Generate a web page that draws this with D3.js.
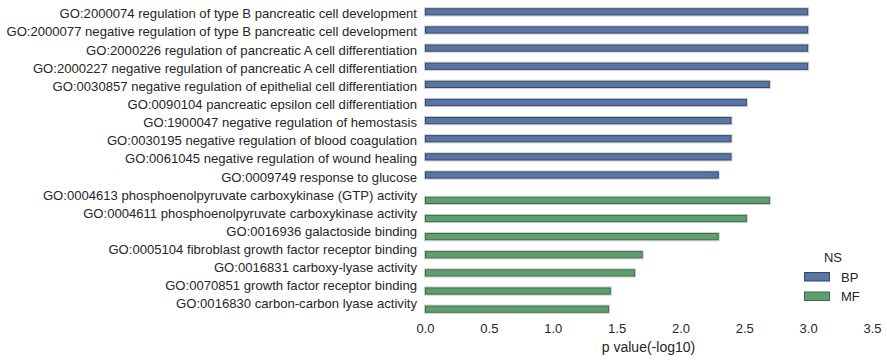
<!DOCTYPE html>
<html><head><meta charset="utf-8">
<script src="https://cdn.jsdelivr.net/npm/d3@7"></script>
<style>body{margin:0;background:#fff}text{font-family:"Liberation Sans",Arial,sans-serif;fill:#262626}</style>
</head><body><svg id="c" width="887" height="362"></svg>
<script>
const terms = [
 "GO:2000074 regulation of type B pancreatic cell development",
 "GO:2000077 negative regulation of type B pancreatic cell development",
 "GO:2000226 regulation of pancreatic A cell differentiation",
 "GO:2000227 negative regulation of pancreatic A cell differentiation",
 "GO:0030857 negative regulation of epithelial cell differentiation",
 "GO:0090104 pancreatic epsilon cell differentiation",
 "GO:1900047 negative regulation of hemostasis",
 "GO:0030195 negative regulation of blood coagulation",
 "GO:0061045 negative regulation of wound healing",
 "GO:0009749 response to glucose",
 "GO:0004613 phosphoenolpyruvate carboxykinase (GTP) activity",
 "GO:0004611 phosphoenolpyruvate carboxykinase activity",
 "GO:0016936 galactoside binding",
 "GO:0005104 fibroblast growth factor receptor binding",
 "GO:0016831 carboxy-lyase activity",
 "GO:0070851 growth factor receptor binding",
 "GO:0016830 carbon-carbon lyase activity"
];
const namespaces = ["BP","BP","BP","BP","BP","BP","BP","BP","BP","BP","MF","MF","MF","MF","MF","MF","MF"];
const pvalues = [3.0,3.0,3.0,3.0,2.70,2.52,2.40,2.40,2.40,2.30,2.70,2.52,2.30,1.705,1.645,1.455,1.44];
const hues = ["BP","MF"];
const colors = ["#5975A4","#5F9E6E"];
const edgeColors = ["#34476a","#3b6b47"];
const xTicks = [0,0.5,1.0,1.5,2.0,2.5,3.0,3.5];
const xLabel = "p value(-log10)";
const legendTitle = "NS";

(function(){
const svg = d3.select("#c");
const mLeft = 425, mRight = 872, mTop = 6.4, mBottom = 314.6;
const x = d3.scaleLinear().domain([0,3.5]).range([mLeft,mRight]);
const y = d3.scaleBand().domain(terms).range([mTop,mBottom]).paddingInner(0).paddingOuter(0);
const hueScale = d3.scaleBand().domain(hues).range([0, y.bandwidth()*0.8]);
const color = d3.scaleOrdinal().domain(hues).range(colors);
const edge = d3.scaleOrdinal().domain(hues).range(edgeColors);

const data = terms.map((t,i)=>({term:t, ns:namespaces[i], v:pvalues[i]}));
const off = y.bandwidth()*0.1;
const g = svg.append("g");
g.selectAll("rect.h").data(data).enter().append("rect")
 .attr("x", x(0)-0.5)
 .attr("y", d=>y(d.term)+off+hueScale(d.ns)-0.5)
 .attr("width", d=>x(d.v)-x(0)+1)
 .attr("height", hueScale.bandwidth()+1)
 .attr("fill","none").attr("stroke","#cfcfcf").attr("stroke-width",1);
g.selectAll("rect.b").data(data).enter().append("rect")
 .attr("x", x(0)+0.5)
 .attr("y", d=>y(d.term)+off+hueScale(d.ns)+0.5)
 .attr("width", d=>x(d.v)-x(0)-1)
 .attr("height", hueScale.bandwidth()-1)
 .attr("fill", d=>color(d.ns)).attr("stroke", d=>edge(d.ns)).attr("stroke-width",1);

const ya = svg.append("g").attr("transform",`translate(${mLeft},0)`)
 .call(d3.axisLeft(y).tickSize(0).tickPadding(8));
ya.select(".domain").remove();
ya.selectAll("text").style("font-size","13.1px").attr("fill","#262626").attr("dy","0.22em");

const xa = svg.append("g").attr("transform",`translate(0,${mBottom})`)
 .call(d3.axisBottom(x).tickValues(xTicks).tickFormat(d3.format(".1f")).tickSize(0).tickPadding(9));
xa.select(".domain").remove();
xa.selectAll("text").style("font-size","13px").attr("fill","#262626");

svg.append("text").attr("x",(mLeft+mRight)/2).attr("y",352).attr("text-anchor","middle")
 .style("font-size","14px").text(xLabel);

const lg = svg.append("g");
lg.append("text").attr("x",833).attr("y",262).attr("text-anchor","middle").style("font-size","13px").text(legendTitle);
hues.forEach((h,i)=>{
  const yy = 272 + i*19.5;
  lg.append("rect").attr("x",804.5).attr("y",yy+0.5).attr("width",25).attr("height",8.5)
    .attr("fill",color(h)).attr("stroke",edge(h)).attr("stroke-width",1);
  lg.append("text").attr("x",841).attr("y",yy+9.5).style("font-size","13px").text(h);
});
})();
</script></body></html>
